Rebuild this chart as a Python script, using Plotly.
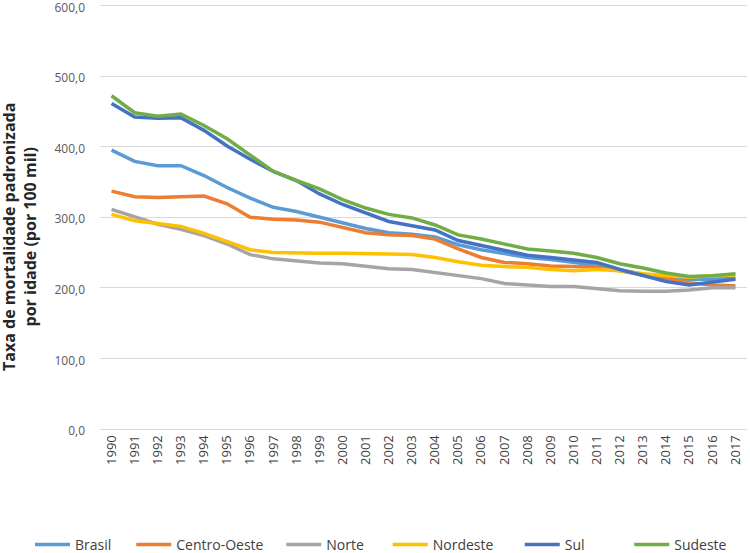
import plotly.graph_objects as go

years = [str(y) for y in range(1990, 2018)]

brasil = [395, 379, 373, 373, 359, 342, 327, 314, 308, 300, 291, 284, 278, 276,
          272, 261, 254, 249, 243, 240, 236, 232, 225, 220, 214, 212, 212, 214]
centro_oeste = [337, 329, 328, 329, 330, 319, 300, 297, 296, 293, 286, 278, 275, 274,
                269, 255, 243, 236, 234, 231, 230, 229, 224, 218, 214, 207, 204, 203]
norte = [311, 301, 290, 283, 274, 262, 247, 241, 238, 235, 234, 231, 227, 226,
         222, 218, 213, 206, 204, 202, 202, 199, 196, 195, 195, 197, 200, 200]
nordeste = [304, 295, 291, 287, 277, 265, 254, 250, 249, 249, 249, 249, 248, 247,
            243, 237, 232, 230, 229, 226, 224, 226, 224, 220, 217, 215, 217, 218]
sul = [461, 442, 440, 441, 423, 401, 382, 365, 352, 333, 318, 306, 294, 288,
       282, 267, 260, 254, 246, 243, 240, 236, 226, 217, 209, 204, 208, 212]
sudeste = [472, 448, 443, 446, 430, 411, 388, 365, 352, 340, 325, 313, 304, 299,
           289, 275, 269, 262, 255, 252, 249, 243, 234, 228, 221, 216, 217, 220]

series_names = ["Brasil", "Centro-Oeste", "Norte", "Nordeste", "Sul", "Sudeste"]
series_values = [brasil, centro_oeste, norte, nordeste, sul, sudeste]
series_colors = ["#5B9BD5", "#ED7D31", "#A5A5A5", "#FFC000", "#4472C4", "#70AD47"]

# legend entry left positions (fraction of figure width), one legend box per series
legend_x = [0.040, 0.175, 0.375, 0.517, 0.693, 0.839]

font_family = "Open Sans, Liberation Sans, sans-serif"

fig = go.Figure()
layout_legends = {}
for i, (name, vals, color) in enumerate(zip(series_names, series_values, series_colors)):
    lg = "legend" if i == 0 else f"legend{i + 1}"
    fig.add_trace(go.Scatter(x=years, y=vals, name=name, mode="lines",
                             line=dict(color=color, width=3.5), legend=lg))
    layout_legends[lg] = dict(orientation="h", xref="container", yref="container",
                              x=legend_x[i], xanchor="left", y=0.0145, yanchor="middle",
                              font=dict(size=14, color="#404040", family=font_family),
                              itemwidth=35, bgcolor="rgba(0,0,0,0)")

fig.update_layout(
    width=750, height=553,
    margin=dict(l=100, r=3, t=4, b=124),
    plot_bgcolor="white", paper_bgcolor="white",
    separators=",.",
    font=dict(family=font_family, color="#595959", size=13),
    showlegend=True,
    annotations=[dict(
        text="<b>Taxa de mortalidade padronizada<br>por idade (por 100 mil)</b>",
        textangle=-90, xref="paper", yref="paper", x=-0.1245, y=0.453,
        xanchor="center", yanchor="middle", showarrow=False,
        font=dict(size=16, color="#262626", family=font_family))],
    **layout_legends,
)

fig.update_xaxes(type="category", tickangle=-90, tickfont=dict(size=13, color="#404040"),
                 showgrid=False, showline=True, linecolor="#D9D9D9", linewidth=1,
                 ticks="", range=[-0.5, 27.5], automargin=False)
fig.update_yaxes(range=[0, 602], tickvals=[0, 100, 200, 300, 400, 500, 600],
                 tickformat=".1f", showgrid=True, ticklabeloverflow="allow",
                 gridcolor="#D9D9D9", gridwidth=1, zeroline=False, showline=False,
                 tickfont=dict(size=12, color="#595959"), ticklabelstandoff=14,
                 ticklabelshift=2, automargin=False)

fig.write_html("out.html", config={"displayModeBar": False},
               post_script="document.body.style.margin='0px';")
